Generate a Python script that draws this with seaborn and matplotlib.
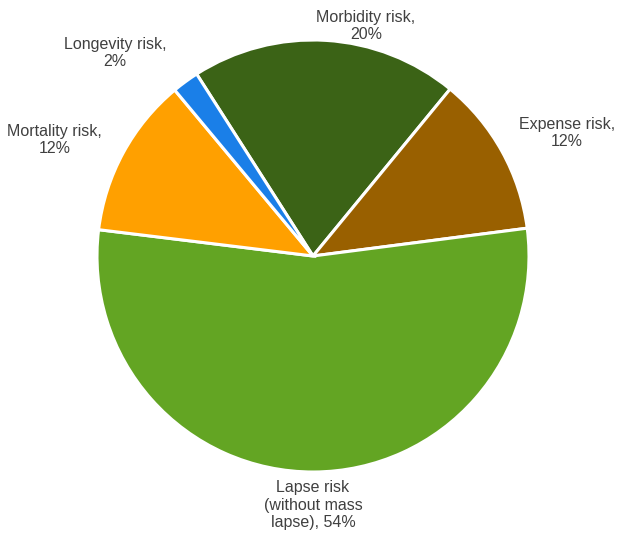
import numpy as np
import matplotlib
matplotlib.use("Agg")
import matplotlib.pyplot as plt
import seaborn as sns

# Data
categories = ["Morbidity risk", "Expense risk", "Lapse risk\n(without mass\nlapse)",
              "Mortality risk", "Longevity risk"]
shares = [20, 12, 54, 12, 2]
colors = ["#3b6316", "#996000", "#63a523", "#ffa000", "#1a7fe8"]

# label centres in pie units (radius = 1)
label_pos = [(0.245, 1.065), (1.176, 0.57), (0.0, -1.153), (-1.197, 0.537), (-0.917, 0.94)]

sns.set_style("white")
plt.rcParams["font.family"] = ["Liberation Sans", "DejaVu Sans"]

fig = plt.figure(figsize=(6.17, 5.34), dpi=100)
ax = fig.add_axes([0, 0, 1, 1])

ax.pie(shares, colors=colors, startangle=122.6, counterclock=False,
       wedgeprops=dict(edgecolor="white", linewidth=2.2))

for cat, val, (x, y) in zip(categories, shares, label_pos):
    if "\n" in cat:
        txt = f"{cat}, {val}%"
    else:
        txt = f"{cat},\n{val}%"
    ax.text(x, y, txt, ha="center", va="center", fontsize=11.5,
            color="#404040", linespacing=1.18)

ax.set_aspect("auto")
ax.set_xlim(-313 / 216, (617 - 313) / 216)
ax.set_ylim(-(534 - 256) / 216, 256 / 216)
ax.axis("off")

fig.savefig("out.png", dpi=100, facecolor="white")
